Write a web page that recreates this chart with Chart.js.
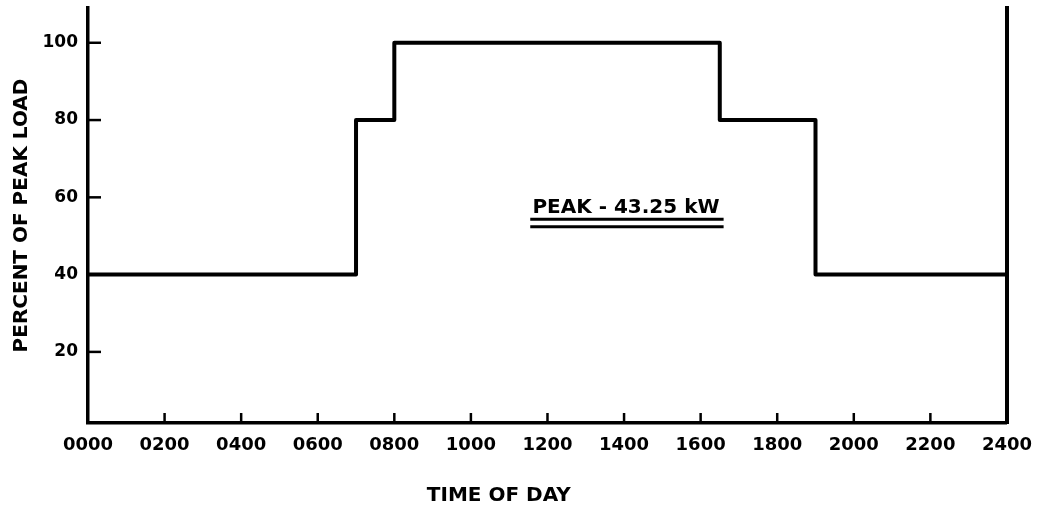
<!DOCTYPE html>
<html>
<head>
<meta charset="utf-8">
<script src="https://cdn.jsdelivr.net/npm/chart.js@4.4.1/dist/chart.umd.min.js"></script>
<style>
  html, body { margin: 0; padding: 0; background: #fff; }
  #wrap { width: 1044px; height: 512px; }
</style>
</head>
<body>
<div id="wrap"><canvas id="canvas"></canvas></div>
<script>
// step points: each point starts a new load level (hours of day, percent of peak)
var hours = [0, 7, 8, 16.5, 19, 24];
var loads = [40, 80, 100, 80, 40, 40];

var xTickValues = [0, 2, 4, 6, 8, 10, 12, 14, 16, 18, 20, 22, 24];
var xTickLabels = ['0000', '0200', '0400', '0600', '0800', '1000', '1200',
                   '1400', '1600', '1800', '2000', '2200', '2400'];
var yTickValues = [20, 40, 60, 80, 100];

var peakText = 'PEAK - 43.25 kW';
var peakAt = {x: 14.05, y: 57.4};          // text centre, data coords
var peakUnderline = {x0: 11.55, x1: 16.6, y: [54.3, 52.4]};

var fontFamily = '"DejaVu Sans", sans-serif';

function get_points() {
    var out = [];
    for (var i = 0; i < hours.length; i++) {
        out.push({x: hours[i], y: loads[i]});
    }
    return out;
}

// short inward tick marks + the peak note
var extras = {
    id: 'extras',
    afterDraw: function(chart) {
        var ctx = chart.ctx;
        var xs = chart.scales.x, ys = chart.scales.y;
        var area = chart.chartArea;
        ctx.save();
        ctx.strokeStyle = '#000';
        ctx.lineWidth = 2.5;
        ctx.lineCap = 'butt';
        xTickValues.forEach(function(v) {
            if (v === 0 || v === 24) return;
            var px = xs.getPixelForValue(v);
            ctx.beginPath();
            ctx.moveTo(px, area.bottom);
            ctx.lineTo(px, area.bottom - 10);
            ctx.stroke();
        });
        yTickValues.forEach(function(v) {
            var py = ys.getPixelForValue(v);
            ctx.beginPath();
            ctx.moveTo(area.left, py);
            ctx.lineTo(area.left + 13, py);
            ctx.stroke();
        });

        // peak note with double underline
        ctx.fillStyle = '#000';
        ctx.font = 'bold 20px ' + fontFamily;
        ctx.textAlign = 'center';
        ctx.textBaseline = 'middle';
        ctx.fillText(peakText, xs.getPixelForValue(peakAt.x), ys.getPixelForValue(peakAt.y));
        ctx.lineWidth = 3;
        peakUnderline.y.forEach(function(v) {
            var py = ys.getPixelForValue(v);
            ctx.beginPath();
            ctx.moveTo(xs.getPixelForValue(peakUnderline.x0), py);
            ctx.lineTo(xs.getPixelForValue(peakUnderline.x1), py);
            ctx.stroke();
        });
        ctx.restore();
    }
};

var config = {
    type: 'line',
    data: {
        datasets: [
            {
                label: 'Percent of peak load',
                data: get_points(),
                stepped: 'before',
                fill: false,
                pointRadius: 0,
                borderColor: '#000',
                borderWidth: 4,
                borderJoinStyle: 'round'
            }
        ]
    },
    options: {
        responsive: true,
        maintainAspectRatio: false,
        animation: false,
        layout: {
            padding: {left: 0, right: 35, top: 8, bottom: 0}
        },
        scales: {
            x: {
                type: 'linear',
                min: 0,
                max: 24,
                afterBuildTicks: function(scale) {
                    scale.ticks = xTickValues.map(function(v) { return {value: v}; });
                },
                afterFit: function(scale) { scale.height = 89; },
                grid: {display: false, drawTicks: false},
                border: {display: true, color: '#000', width: 3.5},
                ticks: {
                    autoSkip: false,
                    maxRotation: 0,
                    padding: 12,
                    color: '#000',
                    font: {family: fontFamily, size: 18, weight: 'bold'},
                    callback: function(value, index) { return xTickLabels[index]; }
                },
                title: {
                    display: true,
                    text: 'TIME OF DAY              ',
                    color: '#000',
                    padding: {top: 4, bottom: 4},
                    font: {family: fontFamily, size: 20, weight: 'bold'}
                }
            },
            y: {
                type: 'linear',
                position: 'left',
                min: 1.6,
                max: 109,
                afterBuildTicks: function(scale) {
                    scale.ticks = yTickValues.map(function(v) { return {value: v}; });
                },
                afterFit: function(scale) {
                    scale.width = 88;
                    scale.paddingTop = 0;
                    scale.paddingBottom = 0;
                },
                grid: {display: false, drawTicks: false},
                border: {display: true, color: '#000', width: 3.5},
                ticks: {
                    padding: 10,
                    color: '#000',
                    font: {family: fontFamily, size: 17, weight: 'bold'}
                },
                title: {
                    display: true,
                    text: 'PERCENT OF PEAK LOAD',
                    color: '#000',
                    padding: 10,
                    font: {family: fontFamily, size: 20, weight: 'bold'}
                }
            },
            y2: {
                type: 'linear',
                position: 'right',
                min: 1.6,
                max: 109,
                afterFit: function(scale) {
                    scale.width = 0;
                    scale.paddingTop = 0;
                    scale.paddingBottom = 0;
                },
                grid: {display: false, drawTicks: false},
                border: {display: true, color: '#000', width: 4},
                ticks: {display: false}
            }
        },
        plugins: {
            legend: {display: false},
            tooltip: {enabled: false}
        }
    },
    plugins: [extras]
};

window.onload = function() {
    var ctx = document.getElementById("canvas").getContext("2d");
    window.myLine = new Chart(ctx, config);
};
</script>
</body>
</html>
